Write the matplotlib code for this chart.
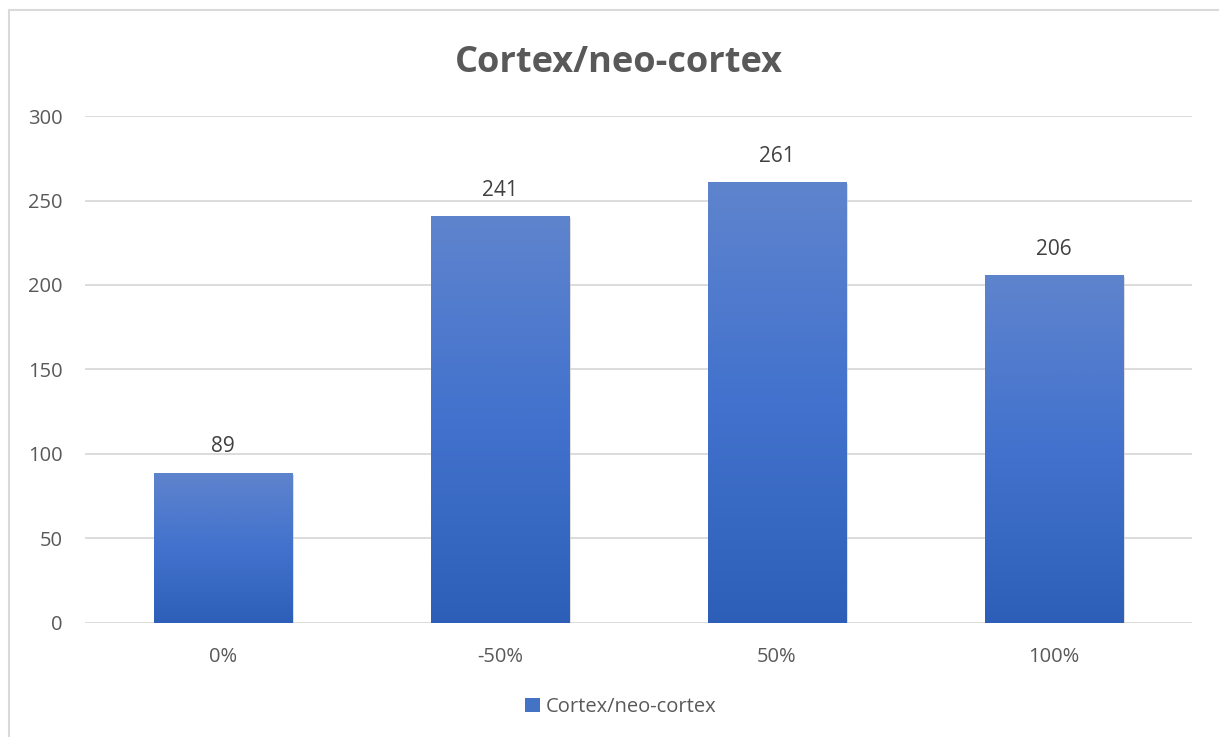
import numpy as np
import matplotlib.pyplot as plt
from matplotlib.patches import Rectangle
from matplotlib.colors import LinearSegmentedColormap

categories = ['0%', '-50%', '50%', '100%']
values = [89, 241, 261, 206]
series_name = 'Cortex/neo-cortex'

plt.rcParams['font.family'] = ['Open Sans', 'DejaVu Sans']
text_color = '#595959'

fig = plt.figure(figsize=(12.19, 7.37), dpi=100)
ax = fig.add_axes([0.0697, 0.1547, 0.9083, 0.6879])

# light outer border of the chart
fig.patches.append(Rectangle((9 / 1219, -0.1), 1.2, 1 - 10 / 737 + 0.1,
                             transform=fig.transFigure, fill=False,
                             edgecolor='#d9d9d9', linewidth=1.5))

x = np.arange(len(categories))
bars = ax.bar(x, values, width=0.5, color='none', zorder=3)

grad = LinearSegmentedColormap.from_list('g', ['#2d5fb8', '#4272cd', '#5f84cd'])
g = np.linspace(0, 1, 256).reshape(-1, 1)
for b in bars:
    x0, y0, w, h = b.get_x(), b.get_y(), b.get_width(), b.get_height()
    # soft shadow
    ax.add_patch(Rectangle((x0 + 0.006, y0 - 1.2), w, h, facecolor='#c8c8c8',
                           alpha=0.6, zorder=2, linewidth=0))
    im = ax.imshow(g, cmap=grad, extent=[x0, x0 + w, y0, y0 + h],
                   origin='lower', aspect='auto', zorder=3)
    im.set_clip_path(b)
    ax.text(x0 + w / 2, h + 9, str(int(h)), ha='center', va='bottom',
            fontsize=15, color='#404040')

ax.set_xlim(-0.5, len(categories) - 0.5)
ax.set_ylim(0, 300)
ax.set_yticks(range(0, 301, 50))
ax.set_xticks(x)
ax.set_xticklabels(categories)
ax.yaxis.grid(True, color='#d9d9d9', linewidth=1.3)
ax.set_axisbelow(True)
for s in ['top', 'right', 'left', 'bottom']:
    ax.spines[s].set_visible(False)
ax.tick_params(axis='both', length=0, labelsize=14.5, labelcolor=text_color)
ax.tick_params(axis='y', pad=16)
ax.tick_params(axis='x', pad=17)

fig.text(0.508, 0.915, series_name, ha='center', va='center',
         fontsize=26, fontweight='bold', color=text_color)

ax.legend([Rectangle((0, 0), 1, 1, facecolor='#4472c4')], [series_name],
          loc='center', bbox_to_anchor=(0.484, -0.165), frameon=False,
          fontsize=14.5, labelcolor=text_color, handlelength=0.7,
          handleheight=0.7, handletextpad=0.3)

fig.savefig('out.png', dpi=100)
